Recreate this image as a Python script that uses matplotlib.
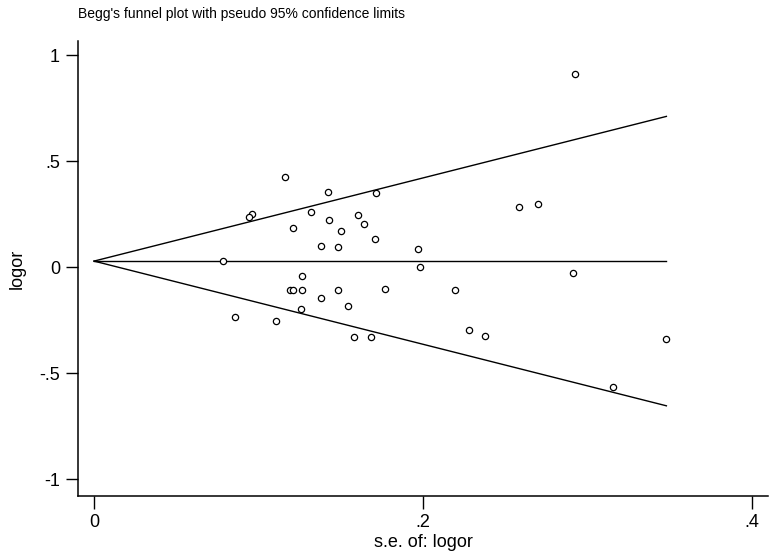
import numpy as np
import matplotlib
matplotlib.use("Agg")
import matplotlib.pyplot as plt

# study standard errors and log odds ratios
se = [0.1163, 0.1424, 0.1714, 0.0962, 0.0942, 0.1319, 0.1603, 0.1430, 0.1643,
      0.1212, 0.1502, 0.1712, 0.1380, 0.1483, 0.1971, 0.0784, 0.1982, 0.1264,
      0.1191, 0.1208, 0.1264, 0.1483, 0.1773, 0.1378, 0.1546, 0.0855, 0.1260,
      0.1105, 0.1579, 0.1684, 0.2924, 0.2584, 0.2699, 0.2916, 0.2198, 0.2281,
      0.2379, 0.3482, 0.3157]
logor = [0.425, 0.355, 0.350, 0.252, 0.237, 0.262, 0.249, 0.223, 0.204,
         0.186, 0.171, 0.134, 0.101, 0.098, 0.087, 0.031, 0.001, -0.042,
         -0.106, -0.106, -0.106, -0.105, -0.100, -0.145, -0.183, -0.232, -0.197,
         -0.251, -0.329, -0.329, 0.913, 0.285, 0.300, -0.025, -0.106, -0.296,
         -0.322, -0.339, -0.565]
pooled = 0.03

xticks = [0, 0.2, 0.4]
xticklabels = ["0", ".2", ".4"]
yticks = [-1, -0.5, 0, 0.5, 1]
yticklabels = ["-1", "-.5", "0", ".5", "1"]

plt.rcParams["font.family"] = ["Liberation Sans", "DejaVu Sans"]

fig = plt.figure(figsize=(7.73, 5.52), dpi=100)
ax = fig.add_axes([0.101, 0.1014, 0.8925, 0.8243])

smax = max(se)
s = np.array([0, smax])
ax.plot(s, [pooled, pooled], color="black", lw=1.0)
ax.plot(s, pooled + 1.96 * s, color="black", lw=1.0)
ax.plot(s, pooled - 1.96 * s, color="black", lw=1.0)
ax.plot(se, logor, "o", ms=4.5, mfc="white", mec="black", mew=0.9)

ax.set_xlim(-0.0097, 0.41)
ax.set_ylim(-1.078, 1.068)
ax.set_xticks(xticks)
ax.set_xticklabels(xticklabels)
ax.set_yticks(yticks)
ax.set_yticklabels(yticklabels)
ax.tick_params(direction="out", length=9, width=1, labelsize=13, pad=4)

for side in ["top", "right"]:
    ax.spines[side].set_visible(False)
for side in ["left", "bottom"]:
    ax.spines[side].set_linewidth(1.1)

ax.set_xlabel("s.e. of: logor", fontsize=13, labelpad=2)
ax.set_ylabel("logor", fontsize=13, labelpad=10)
fig.text(0.101, 0.975, "Begg's funnel plot with pseudo 95% confidence limits",
         fontsize=10, ha="left", va="center")

fig.savefig("out.png", dpi=100)
